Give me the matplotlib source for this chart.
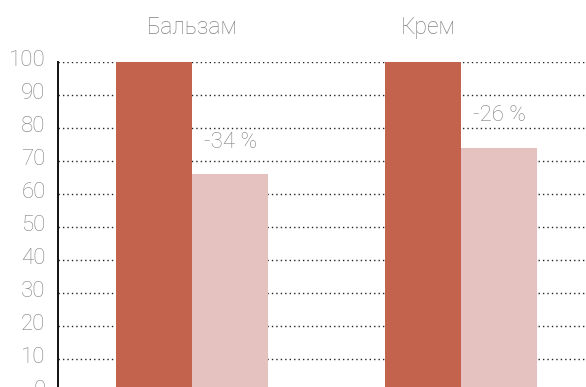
import matplotlib.pyplot as plt
import matplotlib.transforms as mtransforms
import numpy as np

categories = ['Бальзам', 'Крем']
before = [100, 100]
after = [66, 74]
change_labels = ['-34 %', '-26 %']
yticks = list(range(0, 101, 10))

dark = '#c3634d'
light = '#e5c2bf'
grey = '#808080'

plt.rcParams['font.family'] = ['Roboto', 'DejaVu Sans']
plt.rcParams['font.weight'] = 'light'

fig = plt.figure(figsize=(5.86, 3.87), dpi=100)
ax = fig.add_axes([0.099, -0.013, 0.901, 0.853])

x = np.arange(len(categories))
w = 0.283
ax.bar(x - w / 2, before, width=w, color=dark, zorder=2)
ax.bar(x + w / 2, after, width=w, color=light, zorder=2)

for xi, v, lab in zip(x, after, change_labels):
    ax.annotate(lab, (xi + w / 2, v), xytext=(0, 23), textcoords='offset points',
                ha='center', va='center', fontsize=16, color=grey, fontweight='light')

# category names above the plot
for xi, name in zip([0.0, 0.877], categories):
    ax.text(xi, 1.105, name, transform=ax.get_xaxis_transform(), ha='center',
            va='center', fontsize=16.5, color=grey, fontweight='light')

ax.set_xlim(-0.5, 1.465)
ax.set_ylim(0, 100)
ax.set_yticks(yticks)
ax.set_xticks([])
ax.tick_params(axis='y', length=0, labelsize=16, labelcolor=grey, pad=9)
# lift the tick labels a little above their grid lines
lift = mtransforms.ScaledTranslation(0, 3 / 72, fig.dpi_scale_trans)
for t in ax.get_yticklabels():
    t.set_fontweight('light')
    t.set_transform(t.get_transform() + lift)
ax.yaxis.grid(True, linestyle=(0, (1, 2.2)), color='#222222', linewidth=1.0, zorder=0)
ax.set_axisbelow(True)
for s in ['top', 'right', 'bottom']:
    ax.spines[s].set_visible(False)
ax.spines['left'].set_linewidth(1.4)
ax.spines['left'].set_color('#111111')

fig.savefig('out.png', dpi=100)
